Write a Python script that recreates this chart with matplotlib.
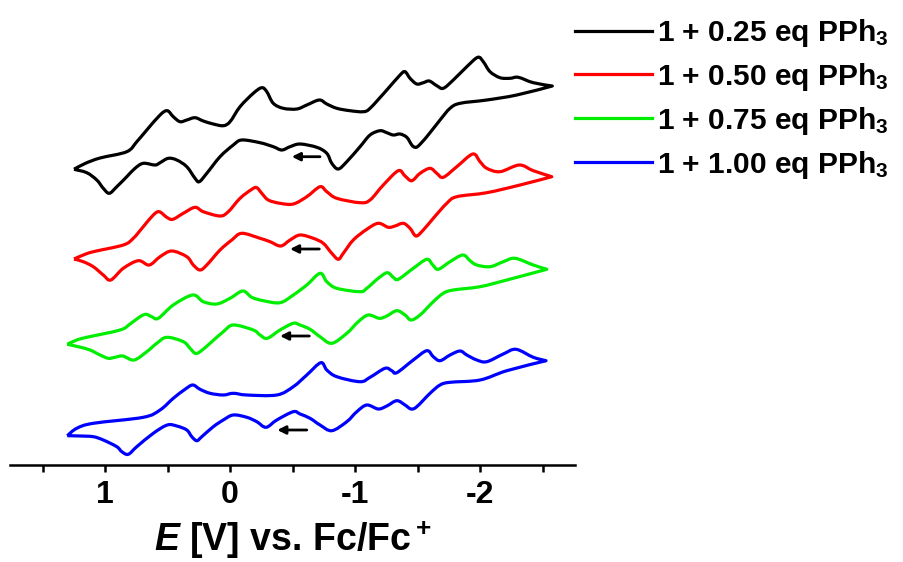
import numpy as np
import matplotlib
matplotlib.use("Agg")
import matplotlib.pyplot as plt
from matplotlib.path import Path
from matplotlib.patches import PathPatch
from matplotlib.ticker import MultipleLocator

plt.rcParams["font.family"] = ["Liberation Sans", "DejaVu Sans"]
plt.rcParams["font.weight"] = "bold"
plt.rcParams["axes.labelweight"] = "bold"
plt.rcParams["axes.unicode_minus"] = False
plt.rcParams["mathtext.fontset"] = "custom"
plt.rcParams["mathtext.rm"] = "Liberation Sans:bold"
plt.rcParams["mathtext.bf"] = "Liberation Sans:bold"
plt.rcParams["mathtext.it"] = "Liberation Sans:italic:bold"

# potential E [V] vs Fc/Fc+ and current (arb. units)
# each loop: left vertex -> upper branch -> right vertex -> lower branch -> back
E_025 = [1.248, 1.160, 1.040, 0.826, 0.746, 0.666, 0.560, 0.502, 0.454, 0.400, 0.346,
         0.280, 0.214, 0.134, 0.054, 0.000, -0.080, -0.186, -0.254, -0.294, -0.346,
         -0.426, -0.534, -0.614, -0.714, -0.774, -0.854, -0.960, -1.066, -1.120, -1.254,
         -1.360, -1.400, -1.440, -1.494, -1.546, -1.594, -1.654, -1.706, -1.786, -1.894,
         -1.982, -2.026, -2.080, -2.160, -2.240, -2.306, -2.426, -2.578,
         -2.294, -2.054, -1.840, -1.760, -1.680, -1.574, -1.506, -1.480, -1.454, -1.414,
         -1.360, -1.306, -1.254, -1.200, -1.120, -1.040, -0.934, -0.866, -0.814, -0.774,
         -0.694, -0.560, -0.480, -0.414, -0.346, -0.240, -0.094, -0.026, 0.080, 0.186,
         0.246, 0.280, 0.346, 0.426, 0.494, 0.560, 0.600, 0.694, 0.760, 0.826,
         0.906, 0.966, 1.014, 1.066, 1.146, 1.248]
I_025 = [-19.3, -13.5, -8.0, -1.7, 8.3, 20.0, 35.0, 39.3, 33.3, 28.3, 30.0,
         32.3, 29.0, 26.0, 24.3, 28.3, 43.3, 56.7, 62.3, 58.3, 46.7,
         41.7, 41.0, 45.0, 50.0, 46.0, 41.7, 39.3, 38.3, 41.7, 60.0,
         75.0, 78.3, 71.7, 66.0, 67.3, 69.0, 64.3, 61.7, 70.0, 83.3,
         92.7, 88.3, 78.3, 72.3, 71.7, 72.7, 67.3, 64.0,
         55.0, 50.0, 46.7, 41.7, 30.0, 13.3, 4.0, 2.7, 5.0, 12.7,
         16.0, 15.0, 17.3, 19.3, 15.0, 3.3, -11.7, -19.0, -13.3, -3.3,
         2.7, 6.0, 3.3, 0.0, 3.3, 7.3, 10.0, 5.0, -6.7, -23.3,
         -31.7, -28.3, -16.7, -10.0, -8.3, -12.7, -15.0, -13.3, -18.3, -26.7,
         -36.7, -43.3, -38.3, -30.0, -22.7, -19.3]

E_050 = [1.248, 1.174, 1.094, 0.854, 0.774, 0.694, 0.614, 0.566, 0.506, 0.458, 0.374,
         0.280, 0.214, 0.080, 0.014, -0.080, -0.174, -0.214, -0.254, -0.306, -0.400,
         -0.506, -0.614, -0.720, -0.774, -0.854, -1.040, -1.120, -1.226, -1.346, -1.400,
         -1.454, -1.520, -1.600, -1.654, -1.706, -1.814, -1.942, -2.000, -2.054, -2.160,
         -2.314, -2.426, -2.574,
         -2.320, -2.054, -1.814, -1.734, -1.626, -1.546, -1.488, -1.440, -1.386, -1.320,
         -1.266, -1.186, -1.094, -0.986, -0.906, -0.866, -0.814, -0.746, -0.666, -0.560,
         -0.480, -0.406, -0.320, -0.240, -0.094, -0.014, 0.080, 0.186, 0.240, 0.294,
         0.346, 0.466, 0.560, 0.646, 0.734, 0.854, 0.954, 1.014, 1.094, 1.174, 1.248]
I_050 = [-19.0, -15.0, -11.7, -5.0, 1.7, 13.3, 25.0, 28.3, 22.7, 20.7, 26.7,
         32.7, 28.3, 24.0, 28.3, 41.7, 50.7, 52.3, 46.7, 40.0, 36.7,
         36.0, 43.3, 53.3, 48.3, 41.7, 37.3, 40.0, 55.0, 69.3, 64.0,
         59.3, 66.7, 71.7, 66.7, 62.7, 73.3, 86.0, 78.3, 71.7, 68.3,
         75.0, 69.3, 63.3,
         55.0, 47.3, 43.3, 36.7, 21.7, 10.0, 4.0, 11.7, 16.7, 14.0,
         12.7, 16.7, 10.7, 0.0, -13.3, -19.3, -13.3, -3.3, 1.7, 5.0,
         0.0, -6.0, -1.7, 1.7, 6.7, 0.0, -10.0, -25.0, -30.0, -25.0,
         -16.7, -11.0, -16.7, -25.0, -20.7, -28.3, -40.0, -35.0, -26.7, -21.7, -19.0]

E_075 = [1.302, 1.226, 1.146, 0.880, 0.800, 0.720, 0.672, 0.626, 0.574, 0.454, 0.298,
         0.214, 0.106, 0.000, -0.102, -0.174, -0.266, -0.400, -0.506, -0.614, -0.720,
         -0.774, -0.854, -1.040, -1.094, -1.186, -1.258, -1.306, -1.346, -1.466, -1.574,
         -1.622, -1.666, -1.760, -1.862, -1.920, -1.974, -2.080, -2.186, -2.280, -2.426,
         -2.534,
         -2.214, -2.000, -1.786, -1.706, -1.626, -1.520, -1.448, -1.400, -1.334, -1.254,
         -1.194, -1.106, -1.026, -0.934, -0.814, -0.720, -0.640, -0.560, -0.506, -0.400,
         -0.298, -0.240, -0.186, -0.026, 0.054, 0.160, 0.240, 0.280, 0.320, 0.374,
         0.506, 0.586, 0.666, 0.768, 0.858, 0.920, 0.974, 1.040, 1.120, 1.214, 1.302]
I_075 = [-19.3, -15.0, -12.3, -5.0, 1.0, 8.3, 10.7, 8.3, 6.7, 20.0, 30.0,
         23.3, 21.0, 26.7, 34.0, 27.7, 24.3, 22.3, 30.0, 40.0, 51.7,
         43.3, 36.7, 33.3, 36.7, 46.7, 52.3, 47.7, 45.7, 56.7, 65.7,
         60.0, 55.7, 63.3, 70.0, 64.3, 60.0, 58.3, 63.3, 66.7, 60.0,
         55.7,
         45.0, 38.3, 35.0, 31.7, 23.3, 10.0, 5.0, 10.0, 14.3, 9.0,
         6.7, 10.0, 3.3, -8.3, -18.3, -11.7, -4.3, 0.0, 1.7, -5.0,
         -13.3, -10.0, -5.0, 0.0, -6.7, -18.3, -26.7, -28.3, -23.3, -16.7,
         -12.3, -18.3, -26.7, -35.0, -31.0, -32.3, -33.3, -30.0, -25.0, -21.7, -19.3]

E_100 = [1.302, 1.226, 1.094, 0.694, 0.560, 0.454, 0.360, 0.298, 0.240, 0.160, 0.054,
         -0.026, -0.134, -0.374, -0.506, -0.614, -0.726, -0.774, -0.854, -1.040, -1.120,
         -1.240, -1.294, -1.334, -1.466, -1.574, -1.626, -1.680, -1.760, -1.840, -1.894,
         -1.974, -2.054, -2.186, -2.288, -2.426, -2.528,
         -2.214, -2.000, -1.760, -1.680, -1.600, -1.494, -1.448, -1.400, -1.334, -1.254,
         -1.186, -1.094, -1.014, -0.934, -0.814, -0.720, -0.640, -0.560, -0.506, -0.374,
         -0.288, -0.214, -0.134, -0.026, 0.054, 0.134, 0.226, 0.266, 0.306, 0.346,
         0.426, 0.502, 0.614, 0.746, 0.814, 0.866, 0.906, 1.014, 1.094, 1.200, 1.302]
I_100 = [-20.7, -13.3, -8.3, -2.3, 5.0, 16.7, 25.7, 30.0, 25.7, 21.7, 20.0,
         21.7, 20.0, 20.0, 28.3, 40.0, 52.3, 45.0, 38.3, 33.3, 37.7,
         46.7, 44.3, 42.3, 55.0, 64.3, 58.3, 54.3, 60.0, 64.0, 60.0,
         55.0, 53.3, 61.0, 65.7, 57.7, 54.3,
         44.3, 35.0, 32.7, 30.0, 21.7, 8.3, 6.0, 10.0, 14.3, 9.0,
         6.0, 10.0, 3.3, -6.7, -15.7, -10.0, -3.3, 1.0, 3.3, -5.0,
         -12.3, -6.7, -2.3, 0.0, -5.0, -11.7, -21.7, -25.7, -21.7, -15.0,
         -11.0, -10.0, -18.3, -31.7, -39.3, -36.7, -31.7, -25.0, -21.7, -21.0, -20.7]

labels = ["1 + 0.25 eq PPh$_3$", "1 + 0.50 eq PPh$_3$",
          "1 + 0.75 eq PPh$_3$", "1 + 1.00 eq PPh$_3$"]
colors = ["#000000", "#ff0000", "#00ee00", "#0000ff"]
offsets = [315, 225, 140, 50]
# scan direction arrows (tail E, head E, current) for each curve
arrow_tail = [-0.720, -0.714, -0.634, -0.614]
arrow_head = [-0.494, -0.480, -0.400, -0.378]
arrow_I = [-6.7, -9.0, -11.0, -15.0]


def spline_path(x, y):
    # smooth (Catmull-Rom style) line through the read points,
    # kept sharp at the two switching potentials
    pts = np.column_stack([x, y])
    k = int(np.argmin(x))
    verts, codes = [], []
    for seg in (pts[:k + 1], pts[k:]):
        p = np.vstack([seg[:1], seg, seg[-1:]])
        if not verts:
            verts.append(seg[0])
            codes.append(Path.MOVETO)
        for i in range(1, len(p) - 2):
            c1 = p[i] + (p[i + 1] - p[i - 1]) / 6
            c2 = p[i + 1] - (p[i + 2] - p[i]) / 6
            verts += [c1, c2, p[i + 1]]
            codes += [Path.CURVE4] * 3
    return Path(verts, codes)


fig = plt.figure(figsize=(9.04, 5.62), dpi=100)
ax = fig.add_axes([0.0111, 0.1726, 0.6250, 0.7829])

curves = [(E_025, I_025), (E_050, I_050), (E_075, I_075), (E_100, I_100)]
for (E, I), lab, c, off in zip(curves, labels, colors, offsets):
    ax.add_patch(PathPatch(spline_path(np.array(E), np.array(I) + off),
                           fill=False, ec=c, lw=2.3, joinstyle="round"))
    ax.plot([], [], color=c, lw=2.3, label=lab)

for t, h, y, off in zip(arrow_tail, arrow_head, arrow_I, offsets):
    ax.annotate("", xy=(h, y + off), xytext=(t, y + off),
                arrowprops=dict(arrowstyle="-|>", color="k", lw=2.0,
                                mutation_scale=12, shrinkA=0, shrinkB=0))

ax.set_xlim(1.76, -2.76)
ax.set_ylim(0, 440)
for s in ["top", "left", "right"]:
    ax.spines[s].set_visible(False)
ax.spines["bottom"].set_linewidth(1.8)
ax.set_yticks([])
ax.xaxis.set_major_locator(MultipleLocator(1))
ax.xaxis.set_minor_locator(MultipleLocator(0.5))
ax.tick_params(axis="x", which="both", direction="out", length=5, width=1.8)
ax.tick_params(axis="x", which="major", labelsize=23, pad=6)
ax.set_xlabel("$E$ [V] vs. Fc/Fc$^+$", fontsize=27, fontweight="bold", labelpad=6)

leg = ax.legend(loc="upper left", bbox_to_anchor=(575 / 904, 1 - 17 / 562),
                bbox_transform=fig.transFigure, frameon=False,
                prop={"weight": "bold", "size": 21.5},
                handlelength=2.58, handletextpad=0.18, labelspacing=0.40,
                borderpad=0, borderaxespad=0)
for line in leg.get_lines():
    line.set_linewidth(2.3)

fig.savefig("out.png", dpi=100)
